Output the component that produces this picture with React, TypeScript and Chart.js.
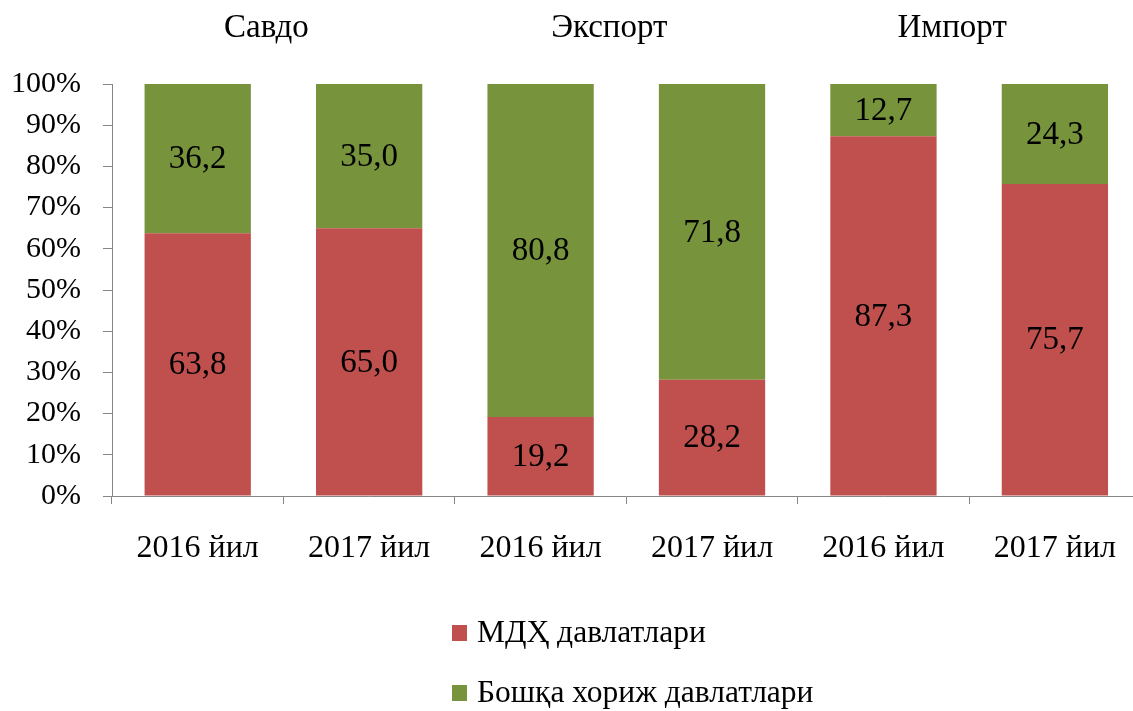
import React, { useEffect, useRef } from "react";
import { Chart, registerables } from "chart.js";

Chart.register(...registerables);

const categories = ["2016 йил", "2017 йил", "2016 йил", "2017 йил", "2016 йил", "2017 йил"];
const groups = ["Савдо", "Экспорт", "Импорт"];
const cisValues = [63.8, 65.0, 19.2, 28.2, 87.3, 75.7];
const otherValues = [36.2, 35.0, 80.8, 71.8, 12.7, 24.3];
const seriesNames = ["МДҲ давлатлари", "Бошқа хориж давлатлари"];
const seriesColors = ["#C0504D", "#77933C"];

const FONT = "'Liberation Serif', 'Times New Roman', serif";

const overlayPlugin = {
  id: "overlay",
  afterDatasetsDraw(chart: any) {
    const ctx = chart.ctx;
    const xs = chart.scales.x;
    ctx.save();
    ctx.fillStyle = "#000";
    ctx.textAlign = "center";
    ctx.textBaseline = "middle";
    ctx.font = `33px ${FONT}`;
    chart.data.datasets.forEach((ds: any, di: number) => {
      const meta = chart.getDatasetMeta(di);
      meta.data.forEach((bar: any, i: number) => {
        const v = ds.data[i];
        const y = (bar.y + bar.base) / 2;
        ctx.fillText(v.toFixed(1).replace(".", ","), bar.x, y + 1);
      });
    });
    // group titles
    groups.forEach((g, gi) => {
      const x1 = xs.getPixelForValue(gi * 2);
      const x2 = xs.getPixelForValue(gi * 2 + 1);
      ctx.fillText(g, (x1 + x2) / 2 - 17, 28);
    });
    // legend
    ctx.font = `31.5px ${FONT}`;
    ctx.textAlign = "left";
    const area = chart.chartArea;
    const left = area.left + 340;
    const ys = [633, 693];
    seriesNames.forEach((n, i) => {
      ctx.fillStyle = seriesColors[i];
      ctx.fillRect(left, ys[i] - 8, 15, 16);
      ctx.fillStyle = "#000";
      ctx.fillText(n, left + 25, ys[i] + 1);
    });
    ctx.restore();
  },
};

export default function App() {
  const ref = useRef<HTMLCanvasElement>(null);
  useEffect(() => {
    if (!ref.current) return;
    const chart = new Chart(ref.current, {
      type: "bar",
      data: {
        labels: categories,
        datasets: [
          {
            label: seriesNames[0],
            data: cisValues,
            backgroundColor: seriesColors[0],
            borderWidth: 0,
            categoryPercentage: 1,
            barPercentage: 0.62,
          },
          {
            label: seriesNames[1],
            data: otherValues,
            backgroundColor: seriesColors[1],
            borderWidth: 0,
            categoryPercentage: 1,
            barPercentage: 0.62,
          },
        ],
      },
      options: {
        responsive: false,
        animation: false,
        layout: { padding: { top: 84, left: 12, right: 0, bottom: 0 } },
        plugins: {
          legend: { display: false },
          tooltip: { enabled: false },
          title: { display: false },
        },
        scales: {
          x: {
            stacked: true,
            grid: {
              offset: true,
              drawOnChartArea: false,
              drawTicks: true,
              tickLength: 8,
              color: "#868686",
            },
            border: { display: true, color: "#868686", width: 1 },
            ticks: {
              color: "#000",
              font: { family: FONT, size: 32 },
              padding: 25,
              maxRotation: 0,
            },
            afterFit(scale: any) {
              scale.height = 215;
            },
          },
          y: {
            stacked: true,
            min: 0,
            max: 100,
            grid: {
              drawOnChartArea: false,
              drawTicks: true,
              tickLength: 9,
              color: "#868686",
            },
            border: { display: true, color: "#868686", width: 1 },
            ticks: {
              stepSize: 10,
              color: "#000",
              font: { family: FONT, size: 30 },
              padding: 22,
              callback: (v: any) => v + "%",
            },
            afterFit(scale: any) {
              scale.width = 100;
            },
          },
        },
      },
      plugins: [overlayPlugin],
    } as any);
    return () => chart.destroy();
  }, []);
  return (
    <div style={{ position: "absolute", left: 0, top: 0, width: 1133, height: 711, overflow: "hidden", background: "#fff" }}>
      <canvas ref={ref} width={1141} height={711} style={{ display: "block" }} />
    </div>
  );
}
